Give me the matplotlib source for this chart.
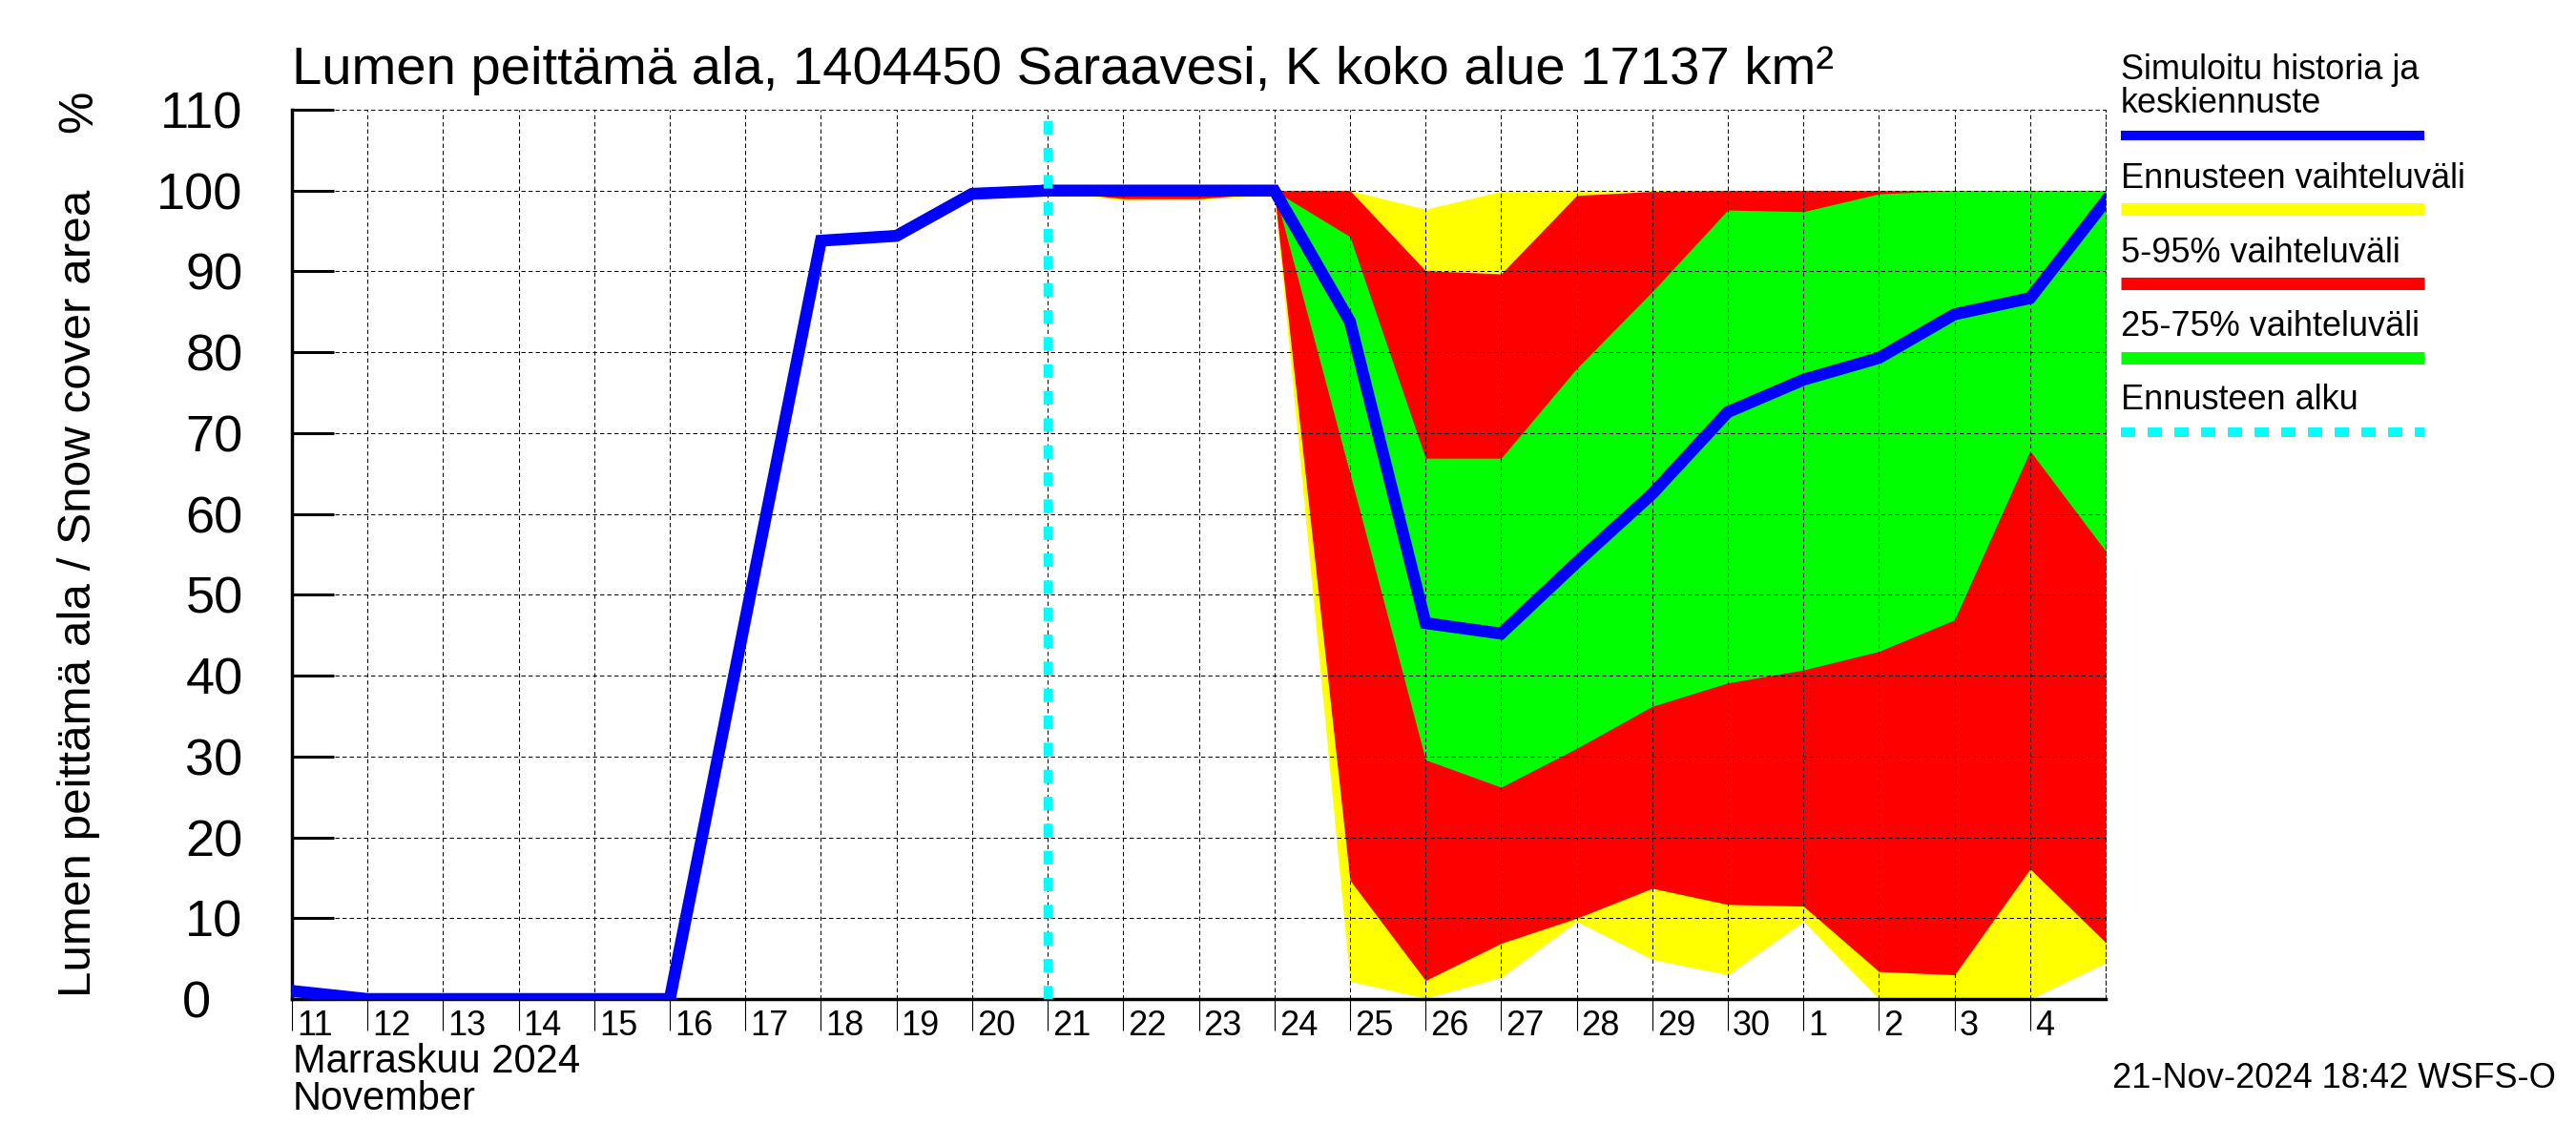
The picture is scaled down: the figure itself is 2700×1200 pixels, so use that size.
import numpy as np
import pandas as pd
import matplotlib
matplotlib.use("Agg")
import matplotlib.pyplot as plt
import matplotlib.dates as mdates
from matplotlib.lines import Line2D
from matplotlib.ticker import FuncFormatter, FixedLocator
from matplotlib.transforms import ScaledTranslation

plt.rcParams['font.family'] = ['Liberation Sans', 'DejaVu Sans']

# simulated history, Nov 11 .. Nov 21
hist_days = pd.date_range("2024-11-11", "2024-11-21", freq="D")
hist_val = [1.0, 0, 0, 0, 0, 0, 47.0, 93.8, 94.4, 99.6, 100]

# forecast, Nov 21 .. Dec 5
fc_days = pd.date_range("2024-11-21", "2024-12-05", freq="D")
median = [100, 100, 100, 100, 83.8, 46.5, 45.2, 54.0, 62.5, 72.6, 76.6, 79.3, 84.7, 86.7, 98.7]
ens_max = [100, 100, 100, 100, 100, 97.7, 99.9, 100, 100, 100, 100, 100, 100, 100, 100]
ens_min = [100, 98.8, 98.9, 99.5, 2.2, 0.1, 2.7, 9.6, 4.9, 3.0, 9.6, 0.0, 0.0, 0.0, 4.5]
p95 = [100, 100, 100, 100, 100, 90.1, 89.7, 99.4, 99.9, 100, 100, 100, 100, 100, 100]
p05 = [100, 99.0, 99.0, 99.7, 14.7, 2.3, 6.9, 10.0, 13.7, 11.7, 11.5, 3.4, 3.0, 16.1, 7.0]
p75 = [100, 100, 100, 100, 94.3, 66.9, 66.9, 78.0, 87.5, 97.6, 97.4, 99.6, 100, 100, 100]
p25 = [100, 100, 100, 100, 65.0, 29.6, 26.2, 31.0, 36.2, 39.1, 40.7, 43.0, 46.9, 67.8, 55.4]

fc_start = pd.Timestamp("2024-11-21")
x_start = pd.Timestamp("2024-11-11")
x_end = pd.Timestamp("2024-12-05")
yticks = list(range(0, 111, 10))

W, H = 2700, 1200
fig = plt.figure(figsize=(27, 12), dpi=100)
ax = fig.add_axes([306 / W, 1 - 1047 / H, (2207 - 306) / W, (1047 - 115) / H])

# bands
ax.fill_between(fc_days, ens_min, ens_max, color='#ffff00', lw=0, zorder=1)
ax.fill_between(fc_days, p05, p95, color='#ff0000', lw=0, zorder=1.1)
ax.fill_between(fc_days, p25, p75, color='#00ff00', lw=0, zorder=1.2)

# lines
ax.plot(hist_days, hist_val, color='#0000ff', lw=9, zorder=3, solid_joinstyle='miter')
ax.plot(fc_days, median, color='#0000ff', lw=9, zorder=3, solid_joinstyle='miter')
ax.axvline(fc_start, color='#00ffff', lw=6.8, linestyle=(0, (1.5, 1.5)), zorder=3.1)

ax.set_xlim(x_start, x_end)
ax.set_ylim(0, 110)

# x axis: day ticks, labels to the right of the tick
days = pd.date_range("2024-11-11", "2024-12-04", freq="D")
ax.xaxis.set_major_locator(FixedLocator(mdates.date2num(days)))
ax.xaxis.set_major_formatter(FuncFormatter(lambda v, p: str(mdates.num2date(v).day)))
ax.xaxis.set_minor_locator(FixedLocator([mdates.date2num(pd.Timestamp("2024-12-01"))]))
ax.tick_params(axis='x', which='major', direction='out', length=24, width=0.8,
               labelsize=26, pad=-16)
ax.tick_params(axis='x', which='minor', direction='out', length=50, width=0.8)
shift = ScaledTranslation(5 / 100, 0, fig.dpi_scale_trans)
for lab in ax.get_xticklabels():
    lab.set_horizontalalignment('left')
    lab.set_transform(lab.get_transform() + shift)

ax.set_yticks(yticks)
ax.tick_params(axis='y', direction='in', length=32, width=2.2, labelsize=39, pad=37)
ylabs = ax.get_yticklabels()
ylabs[0].set_transform(ylabs[0].get_transform() + ScaledTranslation(-34 / 100, 0, fig.dpi_scale_trans))

ax.grid(True, which='major', color='black', lw=0.75, linestyle=(0, (4.2, 3.0)))
ax.set_axisbelow(False)

ax.spines['top'].set_visible(False)
ax.spines['right'].set_linestyle((0, (4.2, 3.0)))
ax.spines['right'].set_linewidth(0.75)
ax.spines['left'].set_linewidth(2.5)
ax.spines['bottom'].set_linewidth(2.5)

# texts
fig.text(306 / W, 1 - 88 / H, "Lumen peittämä ala, 1404450 Saraavesi, K koko alue 17137 km²",
         fontsize=40.5, ha='left', va='baseline')
fig.text(83 / W, 1 - 622 / H, "Lumen peittämä ala / Snow cover area", rotation=90,
         fontsize=35.6, ha='center', va='center')
fig.text(83 / W, 1 - 117 / H, "%", rotation=90, fontsize=36, ha='center', va='center')
fig.text(307 / W, 1 - 1124 / H, "Marraskuu 2024", fontsize=30, ha='left', va='baseline')
fig.text(307 / W, 1 - 1163 / H, "November", fontsize=30, ha='left', va='baseline')
fig.text(2679 / W, 1 - 1140 / H, "21-Nov-2024 18:42 WSFS-O", fontsize=26,
         ha='right', va='baseline')

# legend on the right
lx0, lx1 = 2223 / W, 2541 / W
leg_txt = [("Simuloitu historia ja", 83), ("keskiennuste", 118),
           ("Ennusteen vaihteluväli", 197), ("5-95% vaihteluväli", 275),
           ("25-75% vaihteluväli", 352), ("Ennusteen alku", 429)]
for t, yb in leg_txt:
    fig.text(lx0, 1 - yb / H, t, fontsize=26, ha='left', va='baseline')
leg_lines = [(142, '#0000ff', 7.2, '-'), (219, '#ffff00', 9.4, '-'),
             (297, '#ff0000', 9.4, '-'), (375, '#00ff00', 9.4, '-'),
             (453, '#00ffff', 7.2, (0, (1.5, 1.3)))]
for yl, c, w, ls in leg_lines:
    fig.add_artist(Line2D([lx0, lx1], [1 - yl / H, 1 - yl / H], color=c, lw=w,
                          linestyle=ls, solid_capstyle='butt', dash_capstyle='butt'))

fig.savefig("out.png", dpi=100)
